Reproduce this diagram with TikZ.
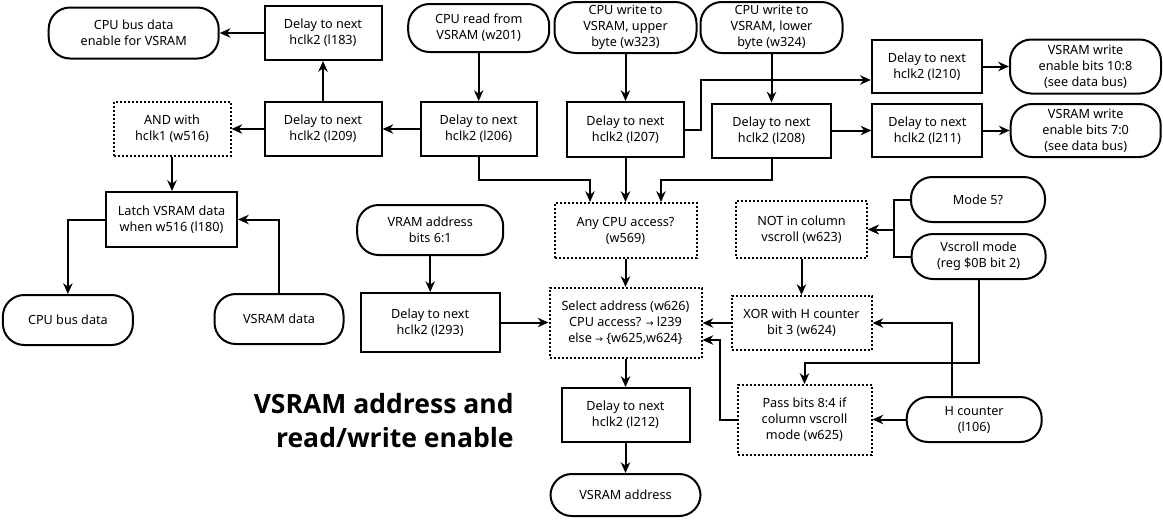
\documentclass[tikz,border=0pt]{standalone}
\usepackage{fontspec}
\setmainfont{Noto Sans}
\newfontfamily\titlefont{Open Sans}
\newfontfamily\symfont{DejaVu Sans}
\usetikzlibrary{arrows.meta,calc}
\newcommand\rarr{{\symfont\fontsize{7}{12}\selectfont →}}
\begin{document}
\begin{tikzpicture}[x=0.75pt,y=-0.75pt,
  every node/.style={font=\fontsize{9.5}{12}\selectfont, align=center, inner sep=1pt, line width=1.5pt},
  box/.style={draw, rectangle},
  dbox/.style={draw, rectangle, dash pattern=on 1.5pt off 1.5pt},
  term/.style={draw, rectangle, rounded corners=16pt},
  sz/.style 2 args={minimum width=#1*0.75pt, minimum height=#2*0.75pt},
  arr/.style={line width=1.5pt, -{Stealth[length=8pt,width=7pt,inset=2.5pt]}},
  ]
\useasboundingbox (0,0) rectangle (1163,519);
% nodes
\node[term,sz={170}{51}] (en) at (133.7,33) {CPU bus data\\enable for VSRAM};
\node[box,sz={117}{54}] (l183) at (323,33) {Delay to next\\hclk2 (l183)};
\node[term,sz={141}{48}] (w201) at (478.7,28) {CPU read from\\VSRAM (w201)};
\node[term,sz={142}{51}] (w323) at (625.5,27.5) {CPU write to\\VSRAM, upper\\byte (w323)};
\node[term,sz={142}{51}] (w324) at (771.5,27.5) {CPU write to\\VSRAM, lower\\byte (w324)};
\node[box,sz={110}{53}] (l210) at (926.8,66.5) {Delay to next\\hclk2 (l210)};
\node[term,sz={151}{54}] (we108) at (1085.5,66.5) {VSRAM write\\enable bits 10:8\\(see data bus)};
\node[dbox,sz={117}{54}] (and) at (172,129) {AND with\\hclk1 (w516)};
\node[box,sz={117}{54}] (l209) at (323,129) {Delay to next\\hclk2 (l209)};
\node[box,sz={116}{54}] (l206) at (478.7,129) {Delay to next\\hclk2 (l206)};
\node[box,sz={117}{55}] (l207) at (625.5,129.5) {Delay to next\\hclk2 (l207)};
\node[box,sz={119}{54}] (l208) at (771.5,130.5) {Delay to next\\hclk2 (l208)};
\node[box,sz={110}{53}] (l211) at (927.4,130.5) {Delay to next\\hclk2 (l211)};
\node[term,sz={150}{53}] (we70) at (1085.7,130.5) {VSRAM write\\enable bits 7:0\\(see data bus)};
\node[box,sz={131}{55}] (latch) at (171.5,219.5) {Latch VSRAM data\\when w516 (l180)};
\node[term,sz={146}{50}] (vaddr) at (430.2,230) {VRAM address\\bits 6:1};
\node[dbox,sz={142}{55}] (any) at (625.5,230.5) {Any CPU access?\\(w569)};
\node[dbox,sz={131}{57}] (not) at (801.5,229.5) {NOT in column\\vscroll (w623)};
\node[term,sz={134}{45}] (m5) at (978,199.5) {Mode 5?};
\node[term,sz={134}{45}] (vs) at (978.6,256.5) {Vscroll mode\\(reg \$0B bit 2)};
\node[term,sz={130}{50}] (cpud) at (67.9,320) {CPU bus data};
\node[term,sz={129}{50}] (vsd) at (279,319) {VSRAM data};
\node[box,sz={139}{59}] (l293) at (430.2,322.5) {Delay to next\\hclk2 (l293)};
\node[dbox,sz={152}{70}] (sel) at (625.5,323) {Select address (w626)\\CPU access? \rarr\ l239\\else \rarr\ \{w625,w624\}};
\node[dbox,sz={140}{54}] (xor) at (801.5,323) {XOR with H counter\\bit 3 (w624)};
\node[dbox,sz={134}{70}] (pass) at (804.5,420) {Pass bits 8:4 if\\column vscroll\\mode (w625)};
\node[term,sz={135}{45}] (hc) at (974.2,419.5) {H counter\\(l106)};
\node[box,sz={128}{54}] (l212) at (625.5,415) {Delay to next\\hclk2 (l212)};
\node[term,sz={150}{42}] (vsa) at (625.5,495) {VSRAM address};
\node[anchor=east, align=right, font=\titlefont\bfseries\fontsize{19.9}{25.5}\selectfont] (title) at (516,421) {VSRAM address and\\read/write enable};
% connectors
\draw[arr] (l183.west) -- (en.east);
\draw[arr] (l209.north) -- (l183.south);
\draw[arr] (l206.west) -- (l209.east);
\draw[arr] (l209.west) -- (and.east);
\draw[arr] (w201.south) -- (l206.north);
\draw[arr] (and.south) -- (and.south |- latch.north);
\draw[arr] (latch.west) -| (cpud.north);
\draw[arr] (vsd.north) |- (latch.east);
\draw[arr] (l206.south) |- (590,180) -- (590,180 |- any.north);
\draw[arr] (w323.south) -- (l207.north);
\draw[arr] (l207.south) -- (any.north);
\draw[arr] (w324.south) -- (l208.north);
\draw[arr] (l208.south) |- (661,180) -- (661,180 |- any.north);
\draw[arr] (l207.east) -| (701,80) -- (l210.west |- 0,80);
\draw[arr] (l208.east) -- (l211.west);
\draw[arr] (l210.east) -- (we108.west);
\draw[arr] (l211.east) -- (we70.west);
\draw[arr] (any.south) -- (sel.north);
\draw[arr] (m5.west) -- (893.5,0 |- m5.west) |- (not.east);
\draw[arr] (vs.west) -- (893.5,0 |- vs.west) |- (not.east);
\draw[arr] (not.south) -- (xor.north);
\draw[arr] (xor.west) -- (xor.west -| sel.east);
\draw[arr] (l293.east) -- (l293.east -| sel.west);
\draw[arr] (952,0 |- hc.north) |- (xor.east);
\draw[arr] (vs.south) |- (pass.north |- 0,363) -- (pass.north);
\draw[arr] (hc.west) -- (hc.west -| pass.east);
\draw[arr] (pass.west) -| (720,340) -- (sel.east |- 0,340);
\draw[arr] (sel.south) -- (l212.north);
\draw[arr] (l212.south) -- (vsa.north);
\draw[arr] (vaddr.south) -- (vaddr.south |- l293.north);
\end{tikzpicture}
\end{document}
